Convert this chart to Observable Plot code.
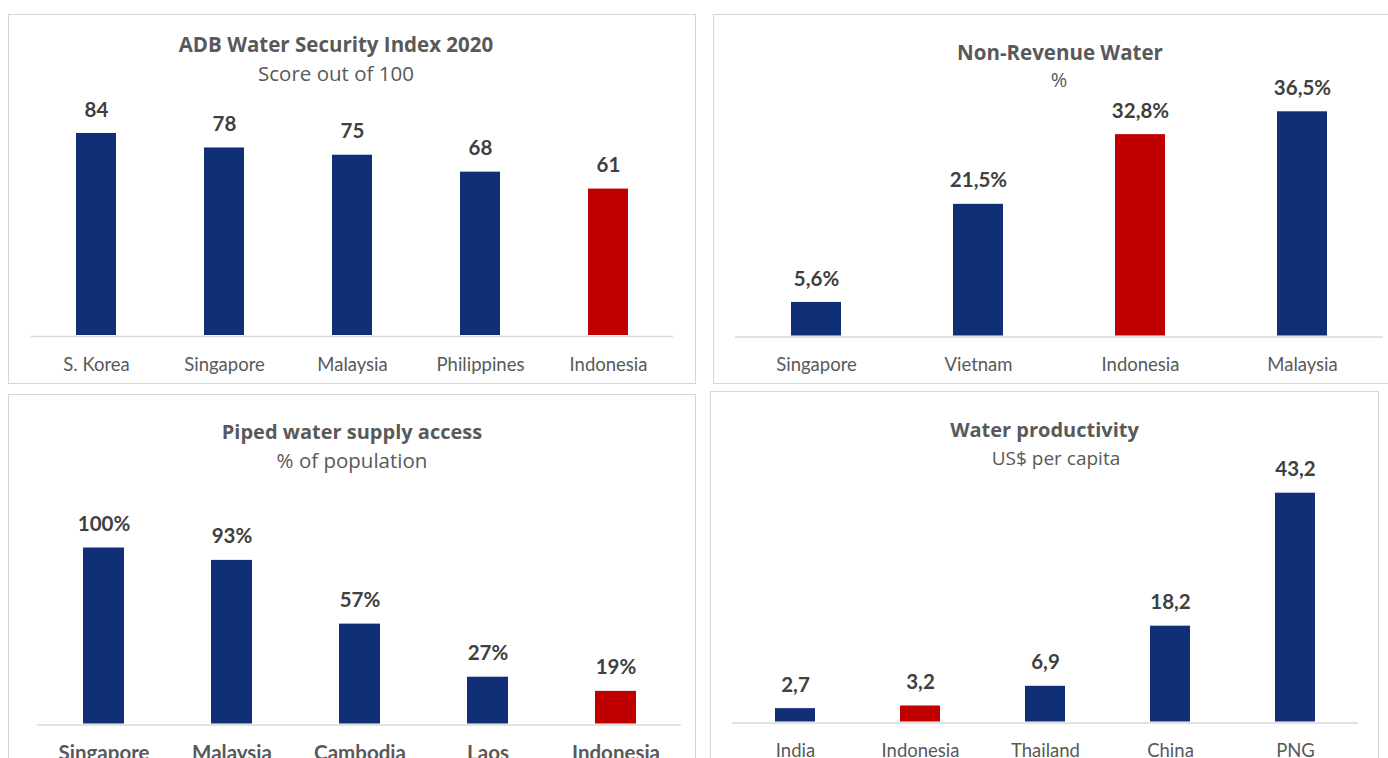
<!DOCTYPE html>
<html>
<head>
<meta charset="utf-8">
<script src="https://cdn.jsdelivr.net/npm/d3@7"></script>
<script src="https://cdn.jsdelivr.net/npm/@observablehq/plot@0.6"></script>
<style>
  html, body { margin: 0; padding: 0; background: #fff; }
  body { width: 1388px; height: 758px; overflow: hidden; position: relative; font-family: Lato, "Open Sans", sans-serif; }
  .box { position: absolute; border: 1.5px solid #d6d6d6; box-sizing: border-box; pointer-events: none; }
  .ttl { position: absolute; width: 600px; text-align: center; color: #595959; white-space: nowrap; line-height: 26px; font-family: "Open Sans", Lato, sans-serif; }
  .ttl.b { font-weight: bold; }
  svg { position: absolute; }
</style>
</head>
<body>
<script>
// ---- data ----
const wsiCountries = ["S. Korea", "Singapore", "Malaysia", "Philippines", "Indonesia"];
const wsiScores = [84, 78, 75, 68, 61];

const nrwCountries = ["Singapore", "Vietnam", "Indonesia", "Malaysia"];
const nrwValues = [5.6, 21.5, 32.8, 36.5];

const pipedCountries = ["Singapore", "Malaysia", "Cambodia", "Laos", "Indonesia"];
const pipedValues = [100, 93, 57, 27, 19];

const prodCountries = ["India", "Indonesia", "Thailand", "China", "PNG"];
const prodValues = [2.7, 3.2, 6.9, 18.2, 43.2];

const highlight = "Indonesia";
const titles = ["ADB Water Security Index 2020", "Non-Revenue Water", "Piped water supply access", "Water productivity"];
const subtitles = ["Score out of 100", "%", "% of population", "US$ per capita"];

// ---- style ----
const NAVY = "#112f77";
const RED = "#c00000";
const FONT = "Lato, 'Open Sans', sans-serif";

const comma1 = v => v.toFixed(1).replace(".", ",");

const panels = [
  {cats: wsiCountries, vals: wsiScores, fmt: v => String(v), ymax: 100,
   box: [8, 14, 688, 370], x0: 30.75, x1: 673, base: 336, k: 2.417, pad: 0.69,
   t: [336, 44, 20.5], s: [336, 73, 20.5], catBold: false, catSize: 18.5, catPad: 21},
  {cats: nrwCountries, vals: nrwValues, fmt: v => comma1(v) + "%", ymax: 40,
   box: [713, 14, 682, 370], x0: 735, x1: 1383, base: 336.5, k: 6.17, pad: 0.69,
   t: [1060, 52, 20.5], s: [1059, 80, 20], catBold: false, catSize: 18.5, catPad: 21},
  {cats: pipedCountries, vals: pipedValues, fmt: v => v + "%", ymax: 120,
   box: [8, 394, 688, 380], x0: 37, x1: 681, base: 724.5, k: 1.77, pad: 0.68,
   t: [352, 432, 20], s: [352, 459.5, 20.5], catBold: true, catSize: 20.5, catPad: 20},
  {cats: prodCountries, vals: prodValues, fmt: v => comma1(v), ymax: 50,
   box: [710, 391, 669, 380], x0: 732, x1: 1358, base: 722.5, k: 5.32, pad: 0.68,
   t: [1044.5, 429.5, 20], s: [1056, 457.5, 19], catBold: false, catSize: 18.5, catPad: 21}
];

panels.forEach((p, i) => {
  const [L, T, W, H] = p.box;
  const data = p.cats.map((c, j) => ({c, v: p.vals[j]}));
  const base = p.base - T;
  const chart = Plot.plot({
    width: W,
    height: H,
    marginLeft: p.x0 - L,
    marginRight: L + W - p.x1,
    marginTop: 10,
    marginBottom: H - base,
    style: {fontFamily: FONT, fontSize: p.catSize + "px", color: "#595959", background: "none", overflow: "visible"},
    x: {domain: p.cats, paddingInner: p.pad, paddingOuter: p.pad / 2, label: null},
    y: {domain: [0, p.ymax], range: [base, base - p.ymax * p.k], axis: null, label: null},
    color: {type: "identity"},
    marks: [
      Plot.ruleY([0], {stroke: "#d9d9d9", strokeWidth: 1.5}),
      Plot.barY(data, {x: "c", y: "v", fill: d => d.c === highlight ? RED : NAVY, insetBottom: 1}),
      Plot.text(data, {x: "c", y: "v", text: d => p.fmt(d.v), dy: -23.5, fontSize: 20.5, fontWeight: "bold", fill: "#404040"}),
      Plot.axisX({tickSize: 0, tickPadding: p.catPad, label: null, fontSize: p.catSize, fontWeight: p.catBold ? "bold" : "normal", fill: "#595959"})
    ]
  });
  chart.style.left = L + "px";
  chart.style.top = T + "px";
  document.body.appendChild(chart);

  const box = document.createElement("div");
  box.className = "box";
  Object.assign(box.style, {left: L + "px", top: T + "px", width: W + "px", height: H + "px"});
  document.body.appendChild(box);

  const t = document.createElement("div");
  t.className = "ttl b";
  t.textContent = titles[i];
  Object.assign(t.style, {left: (p.t[0] - 300) + "px", top: (p.t[1] - 13) + "px", fontSize: p.t[2] + "px"});
  document.body.appendChild(t);

  const s = document.createElement("div");
  s.className = "ttl";
  s.textContent = subtitles[i];
  Object.assign(s.style, {left: (p.s[0] - 300) + "px", top: (p.s[1] - 13) + "px", fontSize: p.s[2] + "px"});
  document.body.appendChild(s);
});
</script>
</body>
</html>
